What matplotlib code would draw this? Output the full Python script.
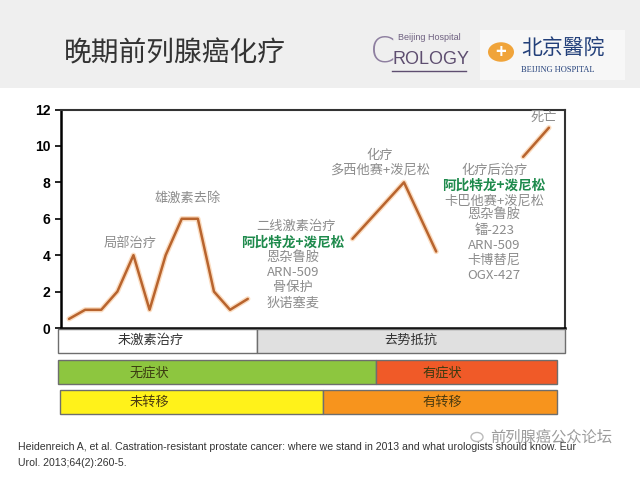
import matplotlib
matplotlib.use('Agg')
import matplotlib.pyplot as plt
import matplotlib.patheffects as pe
from matplotlib.patches import Rectangle, Circle

plt.rcParams['font.family'] = ['Noto Sans CJK SC', 'DejaVu Sans']

# data
seg1_x = [0.5, 1.5, 2.5, 3.5, 4.5, 5.5, 6.5, 7.5, 8.5, 9.5, 10.5, 11.6]
seg1_y = [0.5, 1, 1, 2, 4, 1, 4, 6, 6, 2, 1, 1.6]
seg2_x = [18.1, 21.3, 23.3]
seg2_y = [4.9, 8.0, 4.2]
seg3_x = [28.7, 30.3]
seg3_y = [9.4, 11.0]
y_ticks = [0, 2, 4, 6, 8, 10, 12]

hormone_labels = ['未激素治疗', '去势抵抗']
hormone_edges = [-0.2, 12.2, 31.3]
symptom_labels = ['无症状', '有症状']
symptom_edges = [-0.2, 19.55, 30.8]
meta_labels = ['未转移', '有转移']
meta_edges = [-0.05, 16.3, 30.8]

second_line = ['恩杂鲁胺', 'ARN-509', '骨保护', '狄诺塞麦']
post_chemo = ['卡巴他赛+泼尼松', '恩杂鲁胺', '镭-223', 'ARN-509', '卡博替尼', 'OGX-427']

W, H = 640, 480


def fx(x):
    return x / W


def fy(y):
    return 1 - y / H


fig = plt.figure(figsize=(6.4, 4.8), dpi=100)
fig.patch.set_facecolor('white')

# header band
fig.add_artist(Rectangle((0, fy(88)), 1, 88 / H, transform=fig.transFigure,
                         facecolor='#EFEFEF', edgecolor='none', zorder=0))
fig.text(fx(64), fy(53), '晚期前列腺癌化疗', fontsize=20, color='#333333',
         va='center', ha='left')

# logos (rough text versions)
fig.text(fx(370), fy(52), 'C', fontsize=26, color='#8E7FA0', va='center',
         family='DejaVu Sans', fontweight='light')
fig.text(fx(398), fy(38), 'Beijing Hospital', fontsize=6.5, color='#6E6080',
         va='center', family='Liberation Sans')
fig.text(fx(392), fy(60), 'ROLOGY', fontsize=13, color='#5E4E70',
         va='center', family='Liberation Sans')
fig.add_artist(plt.Line2D([fx(392), fx(466)], [fy(71), fy(71)], color='#5E4E70', lw=1))
fig.add_artist(Rectangle((fx(480), fy(80)), 145 / W, 50 / H, transform=fig.transFigure,
                         facecolor='#F7F7F7', edgecolor='none'))
fig.add_artist(Circle((fx(501), fy(52)), 13 / W, transform=fig.transFigure,
                      facecolor='#F0A43A', edgecolor='none'))
fig.text(fx(501), fy(52), '+', fontsize=13, color='white', ha='center', va='center',
         fontweight='bold')
fig.text(fx(521), fy(48), '北京醫院', fontsize=15, color='#23407A', va='center')
fig.text(fx(521), fy(70), 'BEIJING HOSPITAL', fontsize=6, color='#23407A',
         va='center', family='Liberation Serif')

# main chart
ax = fig.add_axes([fx(61), fy(328), (565 - 61) / W, (328 - 109.5) / H])
glow = [pe.Stroke(linewidth=3.8, foreground='#FBDCC0'), pe.Normal()]
for xs, ys in [(seg1_x, seg1_y), (seg2_x, seg2_y), (seg3_x, seg3_y)]:
    ax.plot(xs, ys, color='#B8642E', lw=1.8, path_effects=glow,
            solid_joinstyle='round', solid_capstyle='round')

ax.set_xlim(0, 31.3)
ax.set_ylim(0, 12)
ax.set_yticks(y_ticks)
ax.set_yticklabels([str(t) for t in y_ticks], family='Liberation Sans',
                   fontweight='bold', fontsize=10)
ax.set_xticks(range(0, 13))
ax.set_xticklabels([])
ax.tick_params(axis='both', direction='out', length=4, width=1.2, color='black')
for side in ['left', 'bottom']:
    ax.spines[side].set_linewidth(1.8)
    ax.spines[side].set_color('black')
for side in ['top', 'right']:
    ax.spines[side].set_linewidth(1.5)
    ax.spines[side].set_color('#333333')

grey = '#8C8C8C'
green = '#1E8A4C'
ax.text(4.3, 4.65, '局部治疗', color=grey, fontsize=9.5, ha='center', va='center')
ax.text(7.9, 7.1, '雄激素去除', color=grey, fontsize=9.5, ha='center', va='center')
ax.text(14.6, 5.6, '二线激素治疗', color=grey, fontsize=9.5, ha='center', va='center')
ax.text(14.4, 4.7, '阿比特龙+泼尼松', color=green, fontsize=9.8, ha='center',
        va='center', fontweight='bold')
for i, s in enumerate(second_line):
    ax.text(14.4, 3.85 - i * 0.82, s, color=grey, fontsize=9.5, ha='center', va='center')
ax.text(19.8, 9.5, '化疗', color=grey, fontsize=9.5, ha='center', va='center')
ax.text(19.8, 8.65, '多西他赛+泼尼松', color=grey, fontsize=9.5, ha='center', va='center')
ax.text(30.0, 11.55, '死亡', color=grey, fontsize=9.5, ha='center', va='center')
ax.text(26.9, 8.65, '化疗后治疗', color=grey, fontsize=9.5, ha='center', va='center')
ax.text(26.9, 7.8, '阿比特龙+泼尼松', color=green, fontsize=9.8, ha='center',
        va='center', fontweight='bold')
for i, s in enumerate(post_chemo):
    ax.text(26.9, 7.0 - i * 0.82, s, color=grey, fontsize=9.5, ha='center', va='center')

# stage bars below the chart
bx = fig.add_axes([fx(61), fy(416), (565 - 61) / W, (416 - 328) / H])
bx.set_xlim(0, 31.3)
bx.set_ylim(416, 328)
bx.axis('off')

rows = [
    (hormone_labels, hormone_edges, ['white', '#E0E0E0'], (329, 353), 340,
     [5.6, 21.7], '#333333'),
    (symptom_labels, symptom_edges, ['#8DC63F', '#F05A28'], (360, 384.5), 373,
     [5.5, 23.7], '#3A3A10'),
    (meta_labels, meta_edges, ['#FFF21A', '#F7941D'], (390, 414), 402,
     [5.5, 23.7], '#4A3A10'),
]
for labels, edges, colors, (top, bottom), ty, tx, tc in rows:
    for i, lab in enumerate(labels):
        bx.barh((top + bottom) / 2, edges[i + 1] - edges[i], left=edges[i],
                height=bottom - top, color=colors[i], edgecolor='#6E6E6E',
                linewidth=1, clip_on=False)
        bx.text(tx[i], ty, lab, color=tc, fontsize=9.5, ha='center', va='center')

# reference and watermark
fig.text(fx(18), fy(447), 'Heidenreich A, et al. Castration-resistant prostate cancer: '
         'where we stand in 2013 and what urologists should know. Eur',
         fontsize=7.6, color='#333333', va='center', family='Liberation Sans')
fig.text(fx(18), fy(463), 'Urol. 2013;64(2):260-5.', fontsize=7.6, color='#333333',
         va='center', family='Liberation Sans')
fig.add_artist(Circle((fx(477), fy(437)), 6 / W, transform=fig.transFigure,
                      facecolor='none', edgecolor='#BBBBBB', lw=1))
fig.text(fx(490), fy(437), '前列腺癌公众论坛', fontsize=11, color='#8A8A8A',
         va='center', alpha=0.85)

fig.savefig('out.png', dpi=100)
